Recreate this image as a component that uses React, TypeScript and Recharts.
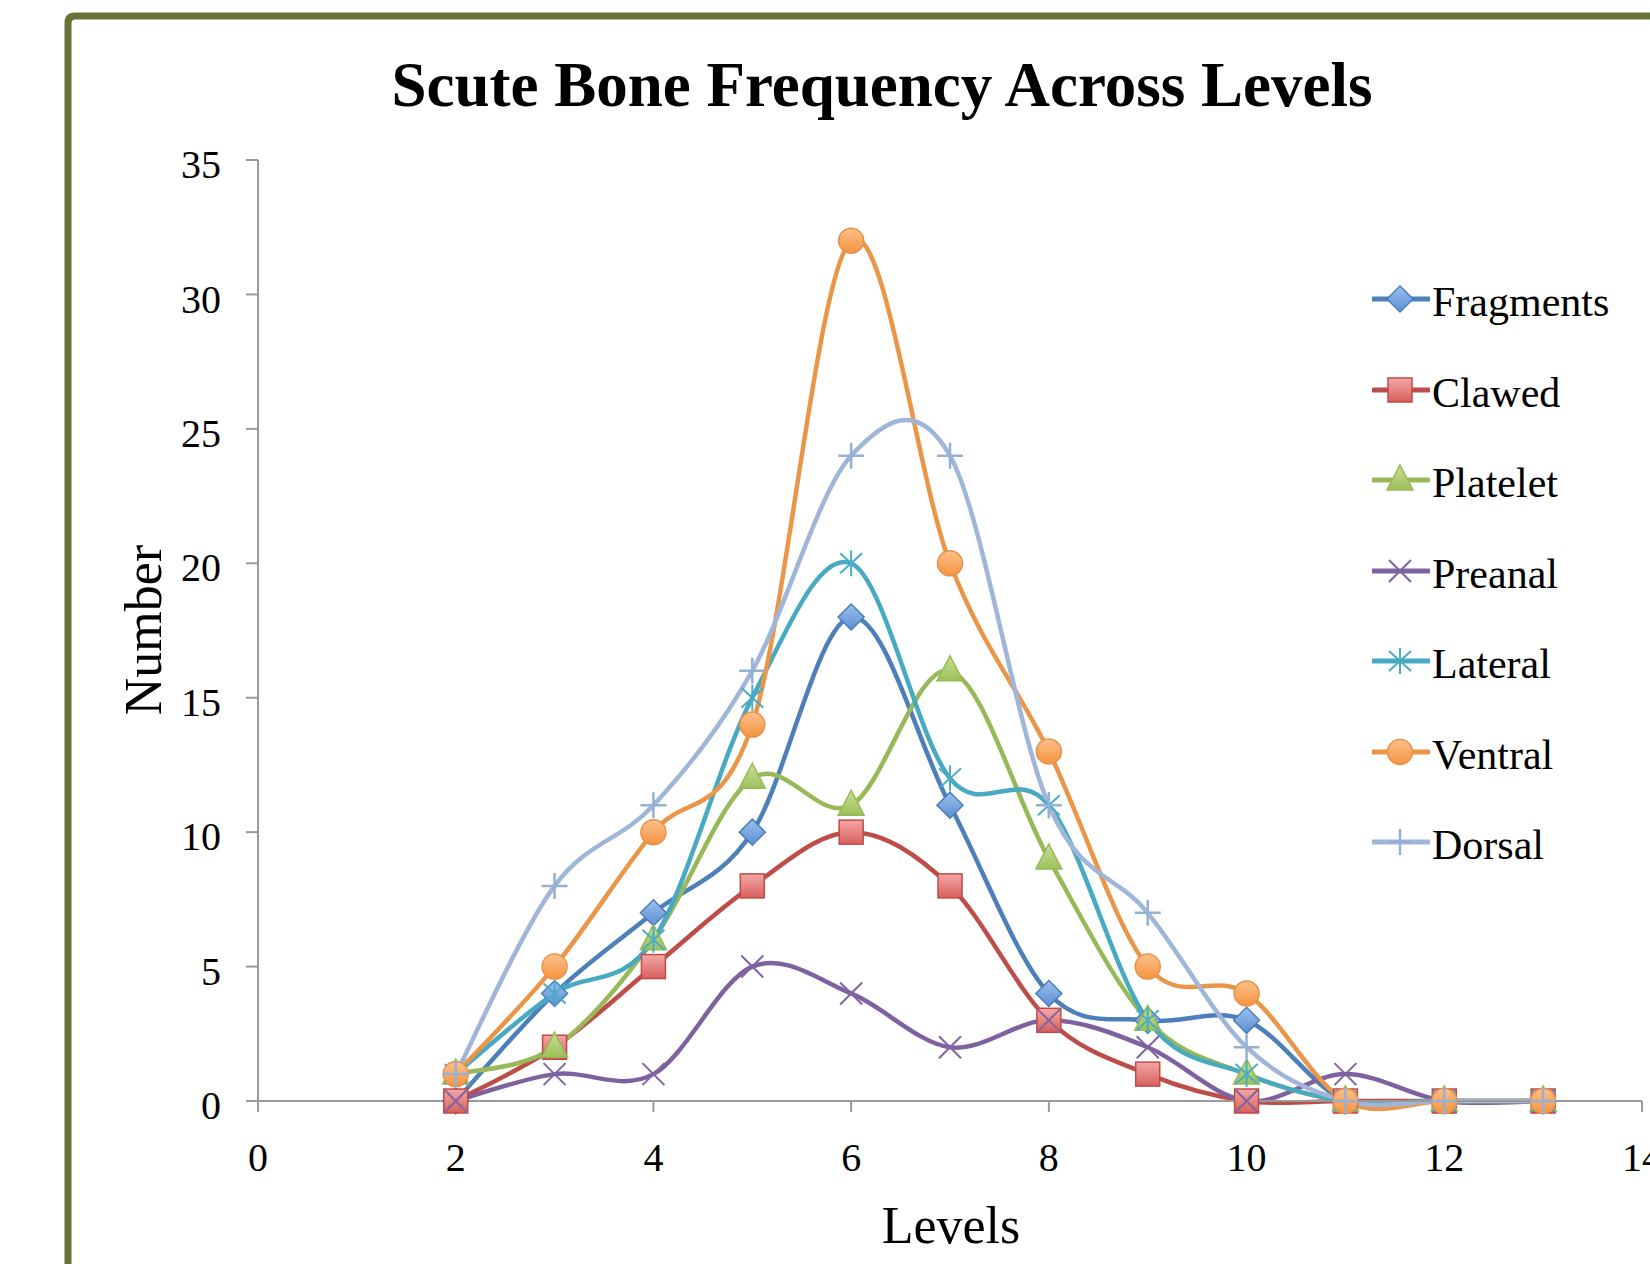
import { LineChart, Line, XAxis, YAxis, Legend } from "recharts"

// level numbers on the x axis
const levels = [2, 3, 4, 5, 6, 7, 8, 9, 10, 11, 12, 13]

// counts per level
const fragments = [0, 4, 7, 10, 18, 11, 4, 3, 3, 0, 0, 0]
const clawed = [0, 2, 5, 8, 10, 8, 3, 1, 0, 0, 0, 0]
const platelet = [1, 2, 6, 12, 11, 16, 9, 3, 1, 0, 0, 0]
const preanal = [0, 1, 1, 5, 4, 2, 3, 2, 0, 1, 0, 0]
const lateral = [1, 4, 6, 15, 20, 12, 11, 3, 1, 0, 0, 0]
const ventral = [1, 5, 10, 14, 32, 20, 13, 5, 4, 0, 0, 0]
const dorsal = [1, 8, 11, 16, 24, 24, 11, 7, 2, 0, 0, 0]

const xTicks = [0, 2, 4, 6, 8, 10, 12, 14]
const yTicks = [0, 5, 10, 15, 20, 25, 30, 35]

const data = levels.map((level, i) => ({
  level,
  Fragments: fragments[i],
  Clawed: clawed[i],
  Platelet: platelet[i],
  Preanal: preanal[i],
  Lateral: lateral[i],
  Ventral: ventral[i],
  Dorsal: dorsal[i],
}))

const series = [
  { key: "Fragments", color: "#4d7fb8", marker: "diamond" },
  { key: "Clawed", color: "#be4d4a", marker: "square" },
  { key: "Platelet", color: "#97b957", marker: "triangle" },
  { key: "Preanal", color: "#7e62a0", marker: "x" },
  { key: "Lateral", color: "#48a9c2", marker: "star" },
  { key: "Ventral", color: "#ea9648", marker: "circle" },
  { key: "Dorsal", color: "#9fb6d8", marker: "plus" },
]

const serif = "'Liberation Serif', 'Times New Roman', serif"

// Excel style smoothed line: cubic bezier, control arms of (next - prev) / 6
function excelCurve(context: any) {
  let pts: number[][] = []
  return {
    areaStart() {},
    areaEnd() {},
    lineStart() {
      pts = []
    },
    point(x: number, y: number) {
      pts.push([+x, +y])
    },
    lineEnd() {
      const n = pts.length
      if (!n) return
      context.moveTo(pts[0][0], pts[0][1])
      for (let i = 0; i < n - 1; i++) {
        const p0 = pts[i - 1] || pts[i]
        const p1 = pts[i]
        const p2 = pts[i + 1]
        const p3 = pts[i + 2] || p2
        context.bezierCurveTo(
          p1[0] + (p2[0] - p0[0]) / 6,
          p1[1] + (p2[1] - p0[1]) / 6,
          p2[0] - (p3[0] - p1[0]) / 6,
          p2[1] - (p3[1] - p1[1]) / 6,
          p2[0],
          p2[1]
        )
      }
    },
  }
}

function Marker({ kind, cx, cy }: { kind: string; cx: number; cy: number }) {
  switch (kind) {
    case "diamond":
      return (
        <path
          d={`M${cx},${cy - 13}L${cx + 13},${cy}L${cx},${cy + 13}L${cx - 13},${cy}Z`}
          fill="url(#gBlue)"
          stroke="#4a7ebb"
          strokeWidth={1.5}
        />
      )
    case "square":
      return (
        <rect
          x={cx - 12}
          y={cy - 12}
          width={24}
          height={24}
          fill="url(#gRed)"
          stroke="#be4b48"
          strokeWidth={1.5}
        />
      )
    case "triangle":
      return (
        <path
          d={`M${cx},${cy - 15}L${cx + 13},${cy + 10}L${cx - 13},${cy + 10}Z`}
          fill="url(#gGreen)"
          stroke="#98b954"
          strokeWidth={1.5}
        />
      )
    case "x":
      return (
        <path
          d={`M${cx - 11},${cy - 11}L${cx + 11},${cy + 11}M${cx - 11},${cy + 11}L${cx + 11},${cy - 11}`}
          stroke="#8064a2"
          strokeWidth={2}
        />
      )
    case "star":
      return (
        <path
          d={`M${cx - 11},${cy - 10}L${cx + 11},${cy + 10}M${cx - 11},${cy + 10}L${cx + 11},${cy - 10}M${cx},${cy - 13}L${cx},${cy + 13}`}
          stroke="#4bacc6"
          strokeWidth={2}
        />
      )
    case "circle":
      return (
        <circle cx={cx} cy={cy} r={12.5} fill="url(#gOrange)" stroke="#e8914b" strokeWidth={1.5} />
      )
    case "plus":
      return (
        <path
          d={`M${cx - 13},${cy}L${cx + 13},${cy}M${cx},${cy - 13}L${cx},${cy + 13}`}
          stroke="#95b0d6"
          strokeWidth={2.5}
        />
      )
    default:
      return null
  }
}

function LegendBox() {
  return (
    <div style={{ fontFamily: serif, fontSize: 42, color: "#000" }}>
      {series.map((s) => (
        <div
          key={s.key}
          style={{ height: 90.5, display: "flex", alignItems: "center" }}
        >
          <svg width={58} height={40} style={{ display: "block" }}>
            <line x1={1} y1={20} x2={57} y2={20} stroke={s.color} strokeWidth={5} strokeLinecap="round" />
            <Marker kind={s.marker} cx={28} cy={20} />
          </svg>
          <span style={{ marginLeft: 2, lineHeight: 1, paddingTop: 6 }}>{s.key}</span>
        </div>
      ))}
    </div>
  )
}

export default function App() {
  return (
    <div
      style={{
        position: "absolute",
        left: 0,
        top: 0,
        width: 1650,
        height: 1264,
        background: "#fff",
        overflow: "hidden",
      }}
    >
      <LineChart
        width={1650}
        height={1264}
        data={data}
        margin={{ top: 160, right: 8, bottom: 43, left: 138 }}
      >
        <defs>
          <linearGradient id="gBlue" x1="0" y1="0" x2="0" y2="1">
            <stop offset="0%" stopColor="#9cc1ee" />
            <stop offset="100%" stopColor="#5b8fd2" />
          </linearGradient>
          <linearGradient id="gRed" x1="0" y1="0" x2="0" y2="1">
            <stop offset="0%" stopColor="#f3a8a6" />
            <stop offset="100%" stopColor="#d85f5c" />
          </linearGradient>
          <linearGradient id="gGreen" x1="0" y1="0" x2="0" y2="1">
            <stop offset="0%" stopColor="#c9e09a" />
            <stop offset="100%" stopColor="#9cc05a" />
          </linearGradient>
          <linearGradient id="gOrange" x1="0" y1="0" x2="0" y2="1">
            <stop offset="0%" stopColor="#fcc08a" />
            <stop offset="100%" stopColor="#f59440" />
          </linearGradient>
        </defs>
        <XAxis
          type="number"
          dataKey="level"
          domain={[0, 14]}
          ticks={xTicks}
          interval={0}
          height={120}
          stroke="#9a9a9a"
          strokeWidth={2}
          tickSize={11}
          tickMargin={31}
          tick={{ fill: "#000", fontSize: 40, fontFamily: serif }}
        />
        <YAxis
          type="number"
          domain={[0, 35]}
          ticks={yTicks}
          interval={0}
          width={120}
          stroke="#9a9a9a"
          strokeWidth={2}
          tickSize={12}
          tickMargin={25}
          tick={{ fill: "#000", fontSize: 40, fontFamily: serif, dy: 4 }}
        />
        {series.map((s) => (
          <Line
            key={s.key}
            dataKey={s.key}
            type={excelCurve as any}
            stroke={s.color}
            strokeWidth={4.5}
            activeDot={false}
            isAnimationActive={false}
            dot={(p: any) => (
              <g key={`${s.key}-${p.index}`}>
                <Marker kind={s.marker} cx={p.cx} cy={p.cy} />
              </g>
            )}
          />
        ))}
        <Legend
          layout="vertical"
          verticalAlign="middle"
          align="center"
          content={() => <LegendBox />}
          wrapperStyle={{ position: "absolute", left: 1372, top: 254, width: 270 }}
        />
      </LineChart>
      <svg
        width={1650}
        height={1264}
        style={{ position: "absolute", left: 0, top: 0, pointerEvents: "none" }}
      >
        <path d="M68,1270 V23 Q68,16 75,16 H1660" fill="none" stroke="#667537" strokeWidth={7} />
        <text x={882} y={106} textAnchor="middle" fontFamily={serif} fontWeight="bold" fontSize={63}>
          Scute Bone Frequency Across Levels
        </text>
        <text x={951} y={1243} textAnchor="middle" fontFamily={serif} fontSize={52}>
          Levels
        </text>
        <text
          x={0}
          y={0}
          transform="translate(161,630) rotate(-90)"
          textAnchor="middle"
          fontFamily={serif}
          fontSize={52}
        >
          Number
        </text>
      </svg>
    </div>
  )
}
